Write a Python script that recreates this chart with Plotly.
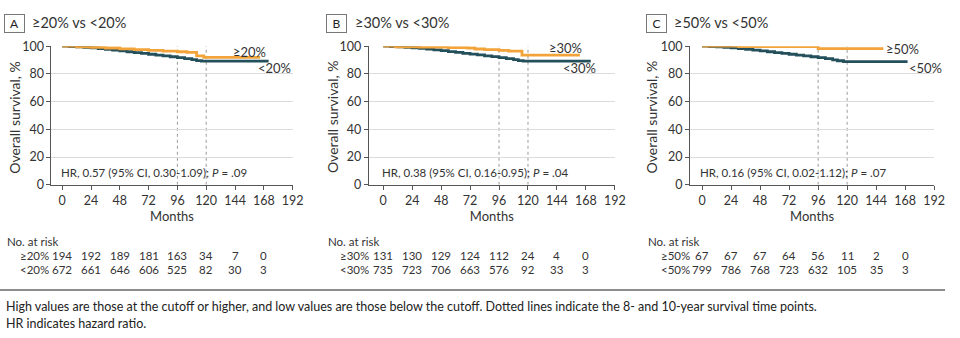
import plotly.graph_objects as go

# ---------------- data ----------------
months_ticks = [0, 24, 48, 72, 96, 120, 144, 168, 192]
risk_times = [0, 24, 48, 72, 96, 120, 144, 168]

# Panel A
a_title = "≥20% vs <20%"
a_hi_t = [0, 12, 24, 36, 48, 60, 72, 84, 96, 104, 112, 118, 165]
a_hi_s = [100, 99.6, 99.2, 98.7, 98.1, 97.5, 97.0, 96.5, 96.0, 95.5, 93.0, 92.0, 92.0]
a_lo_t = [0, 6, 12, 18, 24, 30, 36, 42, 48, 54, 60, 66, 72, 78, 84, 90, 96, 102, 108, 112, 116, 172]
a_lo_s = [100, 99.8, 99.5, 99.2, 98.8, 98.3, 97.8, 97.2, 96.6, 96.0, 95.4, 94.8, 94.2, 93.6, 93.0, 92.4, 91.7, 91.0, 90.3, 89.6, 89.2, 89.2]
a_hr = "HR, 0.57 (95% CI, 0.30-1.09); <i>P</i> = .09"
a_hi_lab, a_lo_lab = "≥20%", "<20%"
a_hi_risk = [194, 192, 189, 181, 163, 34, 7, 0]
a_lo_risk = [672, 661, 646, 606, 525, 82, 30, 3]

# Panel B
b_title = "≥30% vs <30%"
b_hi_t = [0, 10, 30, 54, 70, 76, 84, 96, 104, 115, 163]
b_hi_s = [100, 99.6, 99.3, 99.0, 98.7, 98.0, 97.6, 97.0, 96.4, 93.6, 93.6]
b_lo_t = [0, 6, 12, 18, 24, 30, 36, 42, 48, 54, 60, 66, 72, 78, 84, 90, 96, 102, 108, 112, 116, 172]
b_lo_s = [100, 99.8, 99.5, 99.2, 98.9, 98.5, 98.0, 97.4, 96.8, 96.1, 95.5, 94.9, 94.3, 93.7, 93.1, 92.5, 91.8, 91.0, 90.3, 89.6, 89.2, 89.2]
b_hr = "HR, 0.38 (95% CI, 0.16-0.95); <i>P</i> = .04"
b_hi_lab, b_lo_lab = "≥30%", "<30%"
b_hi_risk = [131, 130, 129, 124, 112, 24, 4, 0]
b_lo_risk = [735, 723, 706, 663, 576, 92, 33, 3]

# Panel C
c_title = "≥50% vs <50%"
c_hi_t = [0, 30, 96, 150]
c_hi_s = [100, 99.8, 98.2, 98.2]
c_lo_t = [0, 6, 12, 18, 24, 30, 36, 42, 48, 54, 60, 66, 72, 78, 84, 90, 96, 102, 108, 112, 117, 170]
c_lo_s = [100, 99.8, 99.5, 99.2, 98.8, 98.3, 97.8, 97.2, 96.6, 96.0, 95.4, 94.8, 94.2, 93.6, 93.0, 92.4, 91.8, 91.0, 90.2, 89.5, 88.9, 88.9]
c_hr = "HR, 0.16 (95% CI, 0.02-1.12); <i>P</i> = .07"
c_hi_lab, c_lo_lab = "≥50%", "<50%"
c_hi_risk = [67, 67, 67, 64, 56, 11, 2, 0]
c_lo_risk = [799, 786, 768, 723, 632, 105, 35, 3]

footnote1 = ("High values are those at the cutoff or higher, and low values are those below the cutoff. "
             "Dotted lines indicate the 8- and 10-year survival time points.")
footnote2 = "HR indicates hazard ratio."

# ---------------- styling / layout ----------------
W, H = 960, 338
FONT = "Lato"
ORANGE = "#F2A33A"
DARK = "#24505C"
TXT = "#333333"


def px(x):
    return x / W


def py(y):
    return 1 - y / H


panels = [
    dict(letter="A", title=a_title, hi_t=a_hi_t, hi_s=a_hi_s, lo_t=a_lo_t, lo_s=a_lo_s, hr=a_hr,
         hi_lab=a_hi_lab, lo_lab=a_lo_lab, hi_risk=a_hi_risk, lo_risk=a_lo_risk,
         dom=(52, 296), rng=(-9, 192), box_x=4, title_x=30, yt_x=15, nar_x=5, grp_x=18,
         hi_lab_pos=(156, 96.0), lo_lab_pos=(177, 84.3)),
    dict(letter="B", title=b_title, hi_t=b_hi_t, hi_s=b_hi_s, lo_t=b_lo_t, lo_s=b_lo_s, hr=b_hr,
         hi_lab=b_hi_lab, lo_lab=b_lo_lab, hi_risk=b_hi_risk, lo_risk=b_lo_risk,
         dom=(373, 622), rng=(-12, 192), box_x=330, title_x=357, yt_x=337, nar_x=330, grp_x=342,
         hi_lab_pos=(151, 98.6), lo_lab_pos=(163, 84.3)),
    dict(letter="C", title=c_title, hi_t=c_hi_t, hi_s=c_hi_s, lo_t=c_lo_t, lo_s=c_lo_s, hr=c_hr,
         hi_lab=c_hi_lab, lo_lab=c_lo_lab, hi_risk=c_hi_risk, lo_risk=c_lo_risk,
         dom=(698, 945), rng=(-10, 192), box_x=653, title_x=680, yt_x=660, nar_x=653, grp_x=667,
         hi_lab_pos=(166, 97.8), lo_lab_pos=(185, 84.3)),
]

fig = go.Figure()
annotations = []
shapes = []
Y_TOP, Y_BOT = 40, 185
TF = dict(family=FONT, size=12.5, color=TXT)
RF = dict(family=FONT, size=11.5, color=TXT)

for i, p in enumerate(panels):
    n = "" if i == 0 else str(i + 1)
    xa, ya = "x" + n, "y" + n
    xkey, ykey = "xaxis" + n, "yaxis" + n

    fig.add_trace(go.Scatter(x=p["lo_t"], y=p["lo_s"], mode="lines",
                             line=dict(color=DARK, width=2.8, shape="hv"),
                             xaxis=xa, yaxis=ya, showlegend=False, hoverinfo="skip"))
    fig.add_trace(go.Scatter(x=p["hi_t"], y=p["hi_s"], mode="lines",
                             line=dict(color=ORANGE, width=2.8, shape="hv"),
                             xaxis=xa, yaxis=ya, showlegend=False, hoverinfo="skip"))

    fig.layout[xkey] = dict(domain=[px(p["dom"][0]), px(p["dom"][1])], range=list(p["rng"]), anchor=ya,
                            tickmode="array", tickvals=months_ticks, ticks="outside", ticklen=4,
                            tickcolor="#555", showline=True, linecolor="#555", linewidth=1, showgrid=False,
                            zeroline=False, tickfont=TF,
                            title=dict(text="Months", font=dict(family=FONT, size=13, color=TXT), standoff=5))
    fig.layout[ykey] = dict(domain=[py(Y_BOT), py(Y_TOP)], range=[0, 100], anchor=xa,
                            tickmode="array", tickvals=[0, 20, 40, 60, 80, 100], ticks="outside", ticklen=4,
                            tickcolor="#555", showline=True, linecolor="#555", linewidth=1, showgrid=True,
                            gridcolor="#DCDCDC", gridwidth=1, zeroline=False, tickfont=TF)

    # dotted reference lines at 8 and 10 years
    for t in (96, 120):
        shapes.append(dict(type="line", xref=xa, yref=ya, x0=t, x1=t, y0=0, y1=100,
                           line=dict(color="#9A9A9A", width=1, dash="dot"), layer="below"))

    annotations.append(dict(text="Overall survival, %", xref="paper", yref="paper", x=px(p["yt_x"]),
                            y=py(114), textangle=-90, showarrow=False,
                            font=dict(family=FONT, size=14, color=TXT), xanchor="center", yanchor="middle"))
    annotations.append(dict(text=p["letter"], xref="paper", yref="paper", x=px(p["box_x"]), y=py(16),
                            xanchor="left", yanchor="middle", showarrow=False, bordercolor="#777", borderwidth=1,
                            borderpad=2, width=15, height=13, font=dict(family=FONT, size=12, color="#222")))
    annotations.append(dict(text=p["title"], xref="paper", yref="paper", x=px(p["title_x"]), y=py(15),
                            xanchor="left", yanchor="middle", showarrow=False,
                            font=dict(family=FONT, size=14.5, color=TXT)))
    annotations.append(dict(text=p["hi_lab"], xref=xa, yref=ya, x=p["hi_lab_pos"][0], y=p["hi_lab_pos"][1],
                            showarrow=False, font=dict(family=FONT, size=13, color=TXT)))
    annotations.append(dict(text=p["lo_lab"], xref=xa, yref=ya, x=p["lo_lab_pos"][0], y=p["lo_lab_pos"][1],
                            showarrow=False, font=dict(family=FONT, size=13, color=TXT)))
    annotations.append(dict(text=p["hr"], xref=xa, yref=ya, x=-3, y=9, xanchor="left", yanchor="middle",
                            showarrow=False, font=dict(family=FONT, size=11.5, color=TXT)))
    annotations.append(dict(text="No. at risk", xref="paper", yref="paper", x=px(p["nar_x"]), y=py(244),
                            xanchor="left", yanchor="middle", showarrow=False, font=RF))
    for lab, vals, yy in ((p["hi_lab"], p["hi_risk"], 259), (p["lo_lab"], p["lo_risk"], 274)):
        annotations.append(dict(text=lab, xref="paper", yref="paper", x=px(p["grp_x"]), y=py(yy),
                                xanchor="left", yanchor="middle", showarrow=False, font=RF))
        for t, v in zip(risk_times, vals):
            annotations.append(dict(text=str(v), xref=xa, yref="paper", x=t, y=py(yy), xanchor="center",
                                    yanchor="middle", showarrow=False, font=RF))

# footnote rule and text
shapes.append(dict(type="line", xref="paper", yref="paper", x0=0, x1=px(956), y0=py(295), y1=py(295),
                   line=dict(color="#666", width=1.5)))
annotations.append(dict(text=footnote1, xref="paper", yref="paper", x=px(4), y=py(312), xanchor="left",
                        yanchor="middle", showarrow=False, font=dict(family=FONT, size=12.5, color="#222")))
annotations.append(dict(text=footnote2, xref="paper", yref="paper", x=px(4), y=py(330), xanchor="left",
                        yanchor="middle", showarrow=False, font=dict(family=FONT, size=12.5, color="#222")))

fig.update_layout(width=W, height=H, margin=dict(l=0, r=0, t=0, b=0), paper_bgcolor="white",
                  plot_bgcolor="white", annotations=annotations, shapes=shapes, showlegend=False)

fig.write_html("out.html")
